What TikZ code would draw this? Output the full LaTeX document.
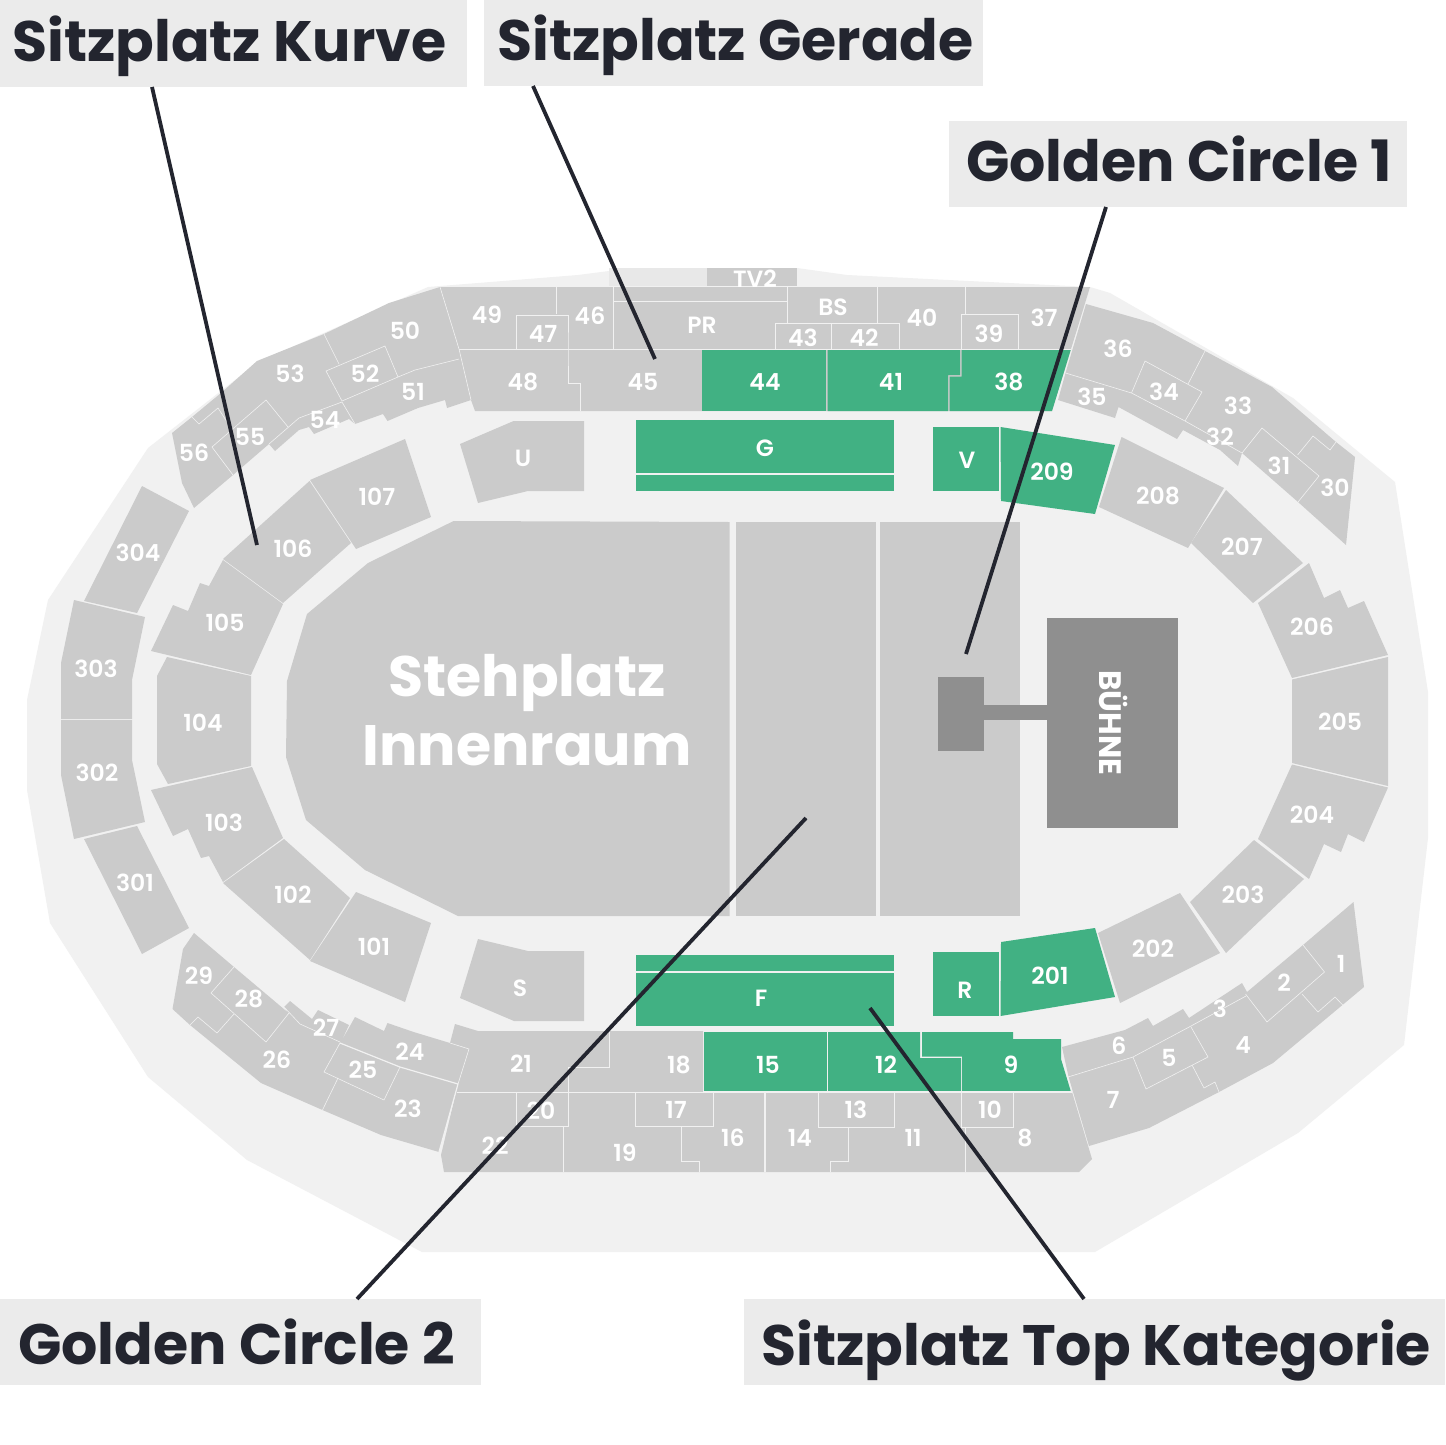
\documentclass[tikz,border=0pt]{standalone}
\usepackage{fontspec}
\setmainfont{Poppins}
\newfontfamily\semi{Poppins SemiBold}
\definecolor{bgc}{HTML}{F1F1F1}
\definecolor{sec}{HTML}{CBCBCB}
\definecolor{grn}{HTML}{41B183}
\definecolor{stagec}{HTML}{8F8F8F}
\definecolor{ink}{HTML}{23252F}
\definecolor{boxc}{HTML}{EBEBEB}
\definecolor{tvl}{HTML}{E8E8E8}
\tikzset{
 area/.style={fill=sec,draw=none},
 greenarea/.style={fill=grn,draw=none},
 stagearea/.style={fill=stagec,draw=none},
 secline/.style={draw=bgc,line width=.6pt},
 secthick/.style={draw=bgc,line width=1.2pt},
 seclabel/.style={text=white,font=\semi\fontsize{23.5}{23.5}\selectfont,inner sep=0pt,yshift=-1pt},
 biglabel/.style={text=white,font=\bfseries\fontsize{57}{69}\selectfont,align=center,inner sep=0pt},
 stagelabel/.style={text=white,font=\bfseries\fontsize{31}{31}\selectfont,inner sep=0pt,rotate=-90},
 headbox/.style={fill=boxc,text=ink,font=\bfseries\fontsize{57}{57}\selectfont,inner sep=0pt,anchor=north west,align=left,text depth=25pt,execute at begin node={\spaceskip=0pt\xspaceskip=0pt\relax}},
 leader/.style={draw=ink,line width=3.8pt},
}
\begin{document}
\begin{tikzpicture}[x=1pt,y=-1pt]
\useasboundingbox (0,0) rectangle (1445,1445);
\fill[white] (0,0) rectangle (1445,1445);
% arena floor
\fill[bgc] (428,287) -- (578,275) -- (609,271) -- (707,268) -- (797,268) -- (847,275) -- (1090,287) -- (1110,293) -- (1293,398) -- (1395,482) -- (1428,692) -- (1428,838) -- (1404,1045) -- (1298,1133) -- (1095,1252) -- (422,1252) -- (247,1160) -- (148,1077) -- (50,923) -- (27,790) -- (27,700) -- (48,600) -- (148,448) -- (258,362) -- cycle;
% TV2 strip
\fill[tvl] (609,268) rectangle (707,286);
\fill[area] (707,268) rectangle (797,286);
% top block
\fill[area] (440,287) -- (1090,287) -- (1071,349) -- (1052,411) -- (475,411) -- (471,400) -- (459,349) -- cycle;
\fill[greenarea] (702,349) rectangle (826,411);
\fill[greenarea] (827.5,349) -- (960,349) -- (960,375) -- (948,375) -- (948,411) -- (827.5,411) -- cycle;
\fill[greenarea] (961.5,349) -- (1071,349) -- (1052,411) -- (949.5,411) -- (949.5,376.5) -- (961.5,376.5) -- cycle;
\draw[secline] (459,349) -- (702,349) (702,349) -- (1071,349);
\draw[secline] (556,287) -- (556,314) (516,349) -- (516,315) -- (568,315) -- (568,349) -- (568,383) -- (580,383) -- (580,411);
\draw[secline] (613,287) -- (613,349) (613,301) -- (787,301) (787,287) -- (787,323);
\draw[secline] (775,349) -- (775,323) -- (899,323) -- (899,349) (831,323) -- (831,349);
\draw[secline] (877,287) -- (877,323) (965,287) -- (965,314) (961,349) -- (961,314) -- (1018,314) -- (1018,349);
% block upper left
\fill[area] (440,287) -- (389,303) -- (324,334) -- (257,361) -- (221,393) -- (192,417) -- (172,433) -- (182,483) -- (194,508) -- (233,475) -- (269,444) -- (275,451) -- (299,430) -- (309,427) -- (314,434) -- (349,419) -- (355,424) -- (383,414) -- (387.5,421) -- (418,408) -- (445,400) -- (447,408) -- (471,400) -- (459,349) -- cycle;
\draw[secline] (440,287) -- (459,349) -- (471,400);
\draw[secline] (324,334) -- (339,364) (326,371) -- (385,346) -- (398,377) -- (342,401) -- cycle (342,401) -- (398,377) -- (415,370) -- (459,359);
\draw[secline] (342,402) -- (299,418) -- (269,444) (342,402) -- (355,424);
\draw[secline] (233,475) -- (212,447) -- (266,400) -- (288,427) (192,417) -- (199,424) -- (218,408) -- (231,428);
% block upper right
\fill[area] (1086,304) -- (1153,323) -- (1205,351) -- (1272,387) -- (1336,442) -- (1355,457) -- (1346,545) -- (1298,502) -- (1242,453) -- (1238,466) -- (1220,450) -- (1183,430) -- (1177,439) -- (1118.5,407) -- (1115,418) -- (1058,400) -- (1065.5,373) -- cycle;
\draw[secline] (1205,351) -- (1188,384) (1131.5,393) -- (1145,361) -- (1202,392) -- (1185,421);
\draw[secline] (1065.5,373) -- (1131.5,393) -- (1185,421) -- (1222.5,442) -- (1242,453);
\draw[secline] (1242,453) -- (1262,428) -- (1319,476) -- (1298,502) (1297.6,455) -- (1313,436) -- (1330,450) -- (1336,442);
% inner ring left
\fill[area] (310,480) -- (405,439) -- (431,517) -- (356,549) -- cycle;
\fill[area] (309.5,481) -- (351,543) -- (283,603) -- (223,559) -- cycle;
\fill[area] (223,560) -- (283,604) -- (251,675) -- (151,651) -- (173,605) -- (188,611) -- (200,583) -- (209,586) -- cycle;
\fill[area] (167,657) -- (251,676) -- (251,766) -- (168,784) -- (157,764) -- (157,676) -- cycle;
\fill[area] (151,790) -- (252,767) -- (283,838) -- (223,882) -- (209,856) -- (201,858) -- (188,829) -- (173,836) -- cycle;
\fill[area] (223,883) -- (284,839) -- (350,898) -- (310,960) -- cycle;
\fill[area] (356,892) -- (431,923) -- (405,1002) -- (310,961) -- cycle;
% outer ring left
\fill[area] (142,486) -- (189,511) -- (137,613) -- (84,601) -- cycle;
\fill[area] (74,600) -- (145,617) -- (132,680) -- (132,719) -- (61,719) -- (61,663) -- cycle;
\fill[area] (61,720) -- (132,720) -- (132,760) -- (145,822) -- (74,839) -- (61,775) -- cycle;
\fill[area] (84,839) -- (137,826) -- (189,928) -- (142,954) -- cycle;
% inner ring right
\fill[area] (1121.5,437) -- (1224,488) -- (1188,548) -- (1099,507) -- cycle;
\fill[area] (1226,490) -- (1303,563) -- (1253,603) -- (1191,543) -- cycle;
\fill[area] (1309,563) -- (1324,598) -- (1340,590) -- (1348,608) -- (1364,601) -- (1388,655) -- (1292,678) -- (1258,603) -- cycle;
\fill[area] (1292,679.5) -- (1388,657) -- (1388,786) -- (1292,763) -- cycle;
\fill[area] (1292,764.5) -- (1388,787.5) -- (1364,842) -- (1348,834) -- (1341,852) -- (1324,844) -- (1309,879) -- (1258,839) -- cycle;
\fill[area] (1254,840) -- (1304,879) -- (1226,953) -- (1190,902) -- cycle;
\fill[area] (1180,893) -- (1220,953) -- (1120,1003) -- (1098,933) -- cycle;
% green blocks
\fill[greenarea] (1000.5,427) -- (1115,445) -- (1095,514) -- (1001,501) -- cycle;
\fill[greenarea] (1001,942) -- (1095,928) -- (1115,997) -- (1000.5,1016) -- cycle;
\fill[greenarea] (933,427) rectangle (999,491);
\fill[greenarea] (933,952) rectangle (999,1016);
\fill[greenarea] (636,420) rectangle (893.5,473);
\fill[greenarea] (636,475) rectangle (893.5,491);
\fill[greenarea] (636,955) rectangle (893.5,971);
\fill[greenarea] (636,973) rectangle (893.5,1026);
% U and S
\fill[area] (513.6,421) -- (584,421) -- (584,491) -- (528,491) -- (478,503) -- (460,444) -- cycle;
\fill[area] (478,939) -- (528,951) -- (584,951) -- (584,1021) -- (514,1021) -- (460,998) -- cycle;
% standing
\fill[area] (453.6,521) -- (729.5,522) -- (729.5,916) -- (458,916) -- (365,870) -- (306,820) -- (286,757) -- (287,681) -- (307,614) -- (368,563) -- cycle;
\fill[area] (736,522) rectangle (876,916);
\fill[area] (880,522) rectangle (1020,916);
% stage
\fill[stagearea] (1047,618) rectangle (1178,828);
\fill[stagearea] (983,705) rectangle (1047,720);
\fill[stagearea] (938,677) rectangle (984,751);
% bottom block
\fill[area] (455,1024) -- (478,1031) -- (703,1031) -- (703,1092) -- (1072,1092) -- (1092,1159) -- (1079,1172) -- (444,1172) -- (441,1155) -- (458,1084) -- (469,1049) -- (450,1043) -- cycle;
\fill[greenarea] (704,1032) rectangle (827,1092);
\fill[greenarea] (828,1032) -- (920,1032) -- (920,1058) -- (961,1058) -- (961,1092) -- (828,1092) -- cycle;
\fill[greenarea] (922,1032) -- (1013,1032) -- (1013,1039) -- (1061,1039) -- (1061,1059) -- (1071,1092) -- (962,1092) -- (962,1056.5) -- (922,1056.5) -- cycle;
\draw[secline] (457,1092) -- (703,1092) (516,1092) -- (516,1126) -- (568,1126) -- (568,1067) -- (609,1067) -- (609,1031);
\draw[secline] (563.6,1127) -- (563.6,1172) (635,1092) -- (635,1126) -- (713,1126) -- (713,1092) (681,1127) -- (681,1161) -- (699,1161) -- (699,1172);
\draw[secthick] (765,1092) -- (765,1172) (703,1092) -- (1072,1092);
\draw[secline] (818,1092) -- (818,1127) -- (894,1127) -- (894,1092) (848,1127) -- (848,1161) -- (830,1161) -- (830,1172);
\draw[secline] (961,1092) -- (961,1127) -- (1013,1127) -- (1013,1092) (965,1127) -- (965,1172);
% block lower left
\fill[area] (194,933) -- (234,967) -- (288.6,1013) -- (284,1007) -- (290,1001) -- (312,1019) -- (318,1010) -- (349,1025) -- (341,1042) -- (355,1017) -- (384,1031) -- (387.5,1023) -- (413.6,1032) -- (450,1043) -- (469,1049) -- (458,1084) -- (439,1152) -- (381,1135) -- (322.5,1110) -- (261,1083) -- (190,1025) -- (172.5,1009) -- (183,949) -- cycle;
\draw[secline] (190,1025) -- (198,1017) -- (217,1033) -- (234,1014);
\draw[secline] (234,967) -- (211,993) -- (266,1042) -- (289,1013);
\draw[secline] (284,1007) -- (300,1024) -- (340,1042);
\draw[secthick] (340,1043) -- (400,1067) -- (458,1084) -- (439,1152);
\draw[secline] (340,1043) -- (324,1072) -- (384,1100) -- (400,1067) (338,1078) -- (322.5,1110) (450,1043) -- (469,1049) -- (458,1084);
% block lower right
\fill[area] (1353.5,902) -- (1364,987) -- (1273,1063) -- (1219,1092) -- (1149,1128) -- (1089,1146) -- (1068.6,1077) -- (1062,1047) -- (1125,1030) -- (1148,1018) -- (1153,1026) -- (1183,1009) -- (1189,1018) -- (1242,983) -- (1247,992) -- (1303,945) -- cycle;
\draw[secline] (1303,945) -- (1324.5,972) -- (1267,1022) -- (1245.5,994) (1302,994) -- (1318,1012) -- (1335,997) -- (1342.7,1005);
\draw[secline] (1246,996) -- (1191,1026) -- (1133,1057) -- (1068,1077) (1191,1027) -- (1208,1057) -- (1146,1089) -- (1133,1057);
\draw[secline] (1192,1065) -- (1204,1088) -- (1215,1082) -- (1219,1092);
% section labels
\foreach \n/\x/\y in {TV2/755/278,BS/833/306,PR/702/324,49/487/314,47/543/333,46/590/315,48/523/381,45/643/381,44/765/381,41/891/381,38/1009/381,43/803/337,42/864/337,40/922/317,39/989/333,37/1044/317,36/1118/348,35/1092/396,34/1164/391,33/1238/405,32/1220/436,31/1279/465,30/1335/487,50/405/330,53/290/373,52/365/373,51/413/391,54/325/419,55/250/436,56/194/452,U/523/457,G/765/447,V/967/459,209/1052/471,208/1158/495,207/1242/546,206/1312/626,205/1340/721,204/1312/814,203/1243/894,202/1153/948,201/1050/975,R/965/989,F/761/997,S/520/987,107/377/496,106/293/548,105/225/622,104/203/722,103/224/822,102/293/894,101/374/946,304/138/552,303/96/668,302/97/772,301/135/882,29/199/975,28/249/998,27/326/1027,26/277/1059,25/363/1069,24/410/1051,23/408/1108,21/521/1063,20/541/1110,22/495/1145,19/625/1152,18/679/1064,17/676/1109,16/733/1137,15/768/1064,14/800/1137,13/856/1109,12/886/1064,11/913/1137,10/990/1109,9/1011/1064,8/1025/1137,7/1113/1099,6/1119/1045,5/1169/1057,4/1243/1044,3/1220/1008,2/1284/982,1/1341/963}
  \node[seclabel] (s\n) at (\x,\y) {\n};
\node[biglabel] (stehplatz) at (527,710) {Stehplatz\\Innenraum};
\node[stagelabel] (buehne) at (1114,723) {BÜHNE};
% callouts
\node[headbox,text width=467pt,text height=61pt,text depth=26pt] (kurve) at (0,0) {\hspace*{12pt}Sitzplatz Kurve};
\node[headbox,text width=499pt,text height=60pt,text depth=26pt] (gerade) at (484,0) {\hspace*{13pt}Sitzplatz Gerade};
\node[headbox,text width=458pt,text height=60pt,text depth=26pt] (gcone) at (949,121) {\hspace*{17pt}Golden Circle 1};
\node[headbox,text width=481pt,text height=65pt,text depth=21pt] (gctwo) at (0,1299) {\hspace*{18pt}Golden Circle 2};
\node[headbox,text width=701pt,text height=66pt,text depth=20pt] (topkat) at (744,1299) {\hspace*{17pt}Sitzplatz Top Kategorie};
\coordinate (kurveStart) at (152,87);
\coordinate (kurveEnd) at (257,545);
\coordinate (geradeStart) at (533,86);
\coordinate (geradeEnd) at (655,359);
\coordinate (gconeStart) at (1106,207);
\coordinate (gconeEnd) at (966,654);
\coordinate (gctwoStart) at (357,1299);
\coordinate (gctwoEnd) at (806,818);
\coordinate (topkatStart) at (1084,1299);
\coordinate (topkatEnd) at (870,1008);
\draw[leader] (kurveStart) -- (kurveEnd);
\draw[leader] (geradeStart) -- (geradeEnd);
\draw[leader] (gconeStart) -- (gconeEnd);
\draw[leader] (gctwoStart) -- (gctwoEnd);
\draw[leader] (topkatStart) -- (topkatEnd);
\end{tikzpicture}
\end{document}
